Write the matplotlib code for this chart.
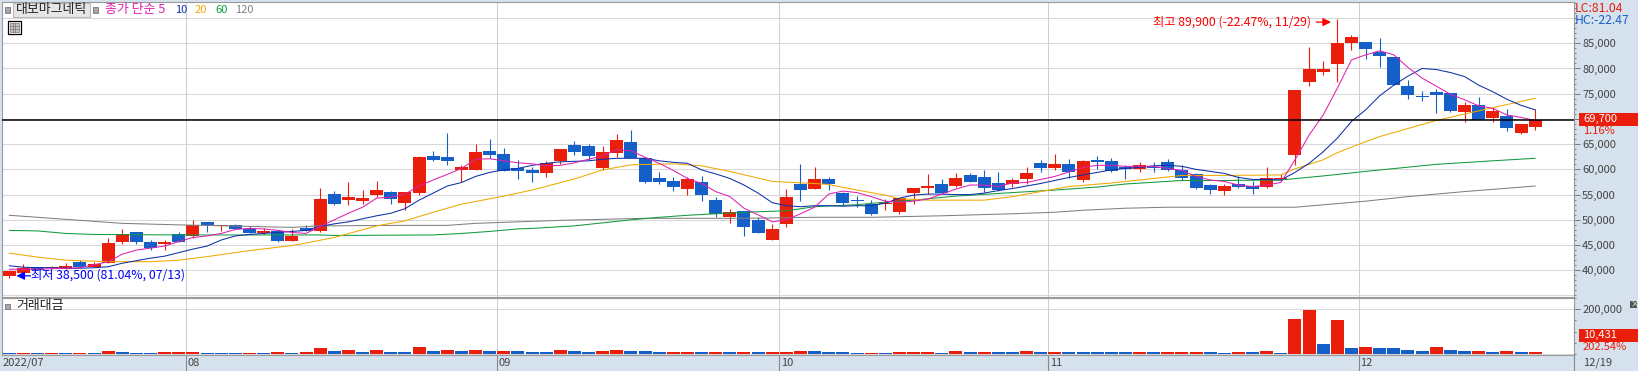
import numpy as np
import matplotlib
matplotlib.use("Agg")
import matplotlib.pyplot as plt
from matplotlib.patches import Rectangle
from matplotlib.ticker import MultipleLocator

plt.rcParams['font.family'] = ['Noto Sans CJK KR', 'DejaVu Sans']

WIDTH = 1638
HEIGHT = 371

RED = "#E91E0B"
BLUE = "#1560C8"
PANEL = "#D6E1EE"
GRID = "#D8D8D8"
EDGE = "#9A9A9A"
TEXT = "#444444"

open_px = [
    38900, 39500, 40600, 40400, 40300, 41700, 40700, 41500, 45600, 47600,
    45700, 45200, 47100, 46700, 49600, 48700, 48900, 48200, 47400, 47700,
    45800, 48400, 47800, 55100, 53900, 53700, 54900, 55500, 53300, 55300,
    62700, 62500, 59900, 59900, 63700, 63100, 60300, 59900, 59300, 61700,
    64800, 64600, 60300, 63300, 65400, 62300, 58300, 57700, 56100, 57500,
    53900, 50600, 51800, 50000, 46000, 49200, 57200, 56100, 58100, 55300,
    53900, 53100, 53100, 51600, 55300, 56300, 57100, 56700, 58900, 58500,
    57300, 57100, 58100, 61300, 60300, 61100, 57900, 61900, 61700, 60500,
    60100, 60400, 61500, 59900, 59100, 56900, 55700, 57100, 56700, 56500,
    58100, 62900, 77300, 79300, 80900, 85100, 85300, 83300, 82300, 76500,
    74600, 75400, 75200, 71400, 72800, 70200, 70600, 67200, 68400]
high_px = [
    39900, 41200, 40600, 40900, 41400, 42000, 41700, 46400, 48200, 47600,
    46000, 46000, 47600, 50000, 49600, 49000, 49100, 48700, 48300, 47700,
    48200, 49000, 56300, 55700, 57500, 55900, 57700, 55700, 55500, 62700,
    63700, 67200, 60900, 65000, 66000, 64300, 61900, 60500, 61700, 64100,
    65600, 65000, 64600, 67000, 67800, 62300, 59500, 58500, 58500, 58700,
    54500, 52200, 51800, 50600, 49200, 56100, 61100, 60500, 58500, 55500,
    54700, 53900, 54100, 54300, 56300, 59100, 58100, 59300, 59300, 59900,
    59500, 58300, 60500, 61900, 63100, 62100, 61900, 62700, 62300, 60900,
    61500, 61500, 62100, 60900, 59300, 57100, 57100, 58600, 57700, 60500,
    59100, 75700, 84300, 81500, 89900, 86700, 85300, 86100, 82300, 77700,
    75500, 75900, 75200, 73400, 74400, 72200, 72000, 69000, 72000]
low_px = [
    38500, 39500, 40100, 40400, 40300, 40600, 40700, 41500, 45200, 45200,
    44000, 44000, 45700, 46400, 47600, 47800, 48200, 47400, 47100, 45600,
    45800, 47700, 47500, 53000, 53000, 53100, 54500, 53100, 52000, 54900,
    61700, 60900, 57400, 59900, 62300, 59700, 58100, 57500, 58500, 61100,
    62900, 61900, 59800, 62500, 62300, 57300, 57100, 55700, 54900, 53700,
    50600, 49400, 46800, 47400, 46000, 48600, 53700, 56100, 55900, 53000,
    52600, 51000, 52000, 51200, 53100, 55100, 55300, 56500, 57500, 55500,
    55700, 56500, 57100, 59500, 59900, 58300, 57500, 60100, 59500, 58100,
    59500, 59500, 59700, 57900, 56100, 55100, 54900, 56300, 55100, 56300,
    57700, 60900, 76500, 78700, 77300, 83700, 81900, 80300, 76700, 74000,
    73600, 71200, 71400, 69400, 69800, 69400, 67600, 67000, 67800]
close_px = [
    39900, 40500, 40100, 40700, 40900, 40600, 41200, 45400, 47100, 45600,
    44500, 45600, 45700, 48900, 48900, 49000, 48200, 47400, 47800, 45800,
    46800, 47700, 54100, 53100, 54500, 54300, 55900, 54100, 55500, 62500,
    61900, 61700, 60500, 63500, 62900, 59700, 59700, 59300, 61300, 64100,
    63500, 62700, 63500, 65800, 62300, 57500, 57500, 56500, 58100, 54900,
    51200, 51600, 48600, 47400, 48200, 54500, 55900, 58100, 57100, 53300,
    53700, 51200, 53300, 54300, 56300, 56700, 55300, 58300, 57500, 56300,
    55900, 57900, 59300, 60300, 61100, 59500, 61700, 61500, 59700, 60100,
    60800, 60200, 59900, 58300, 56300, 55900, 56700, 56500, 56100, 58300,
    58300, 75700, 79900, 79900, 85100, 86300, 83900, 82500, 76700, 74800,
    74400, 74800, 71600, 72800, 69800, 71600, 68200, 69000, 69700]

turnover = [
    3000, 3000, 3000, 3000, 3000, 3000, 3000, 13000, 9000, 3000,
    3000, 9000, 9000, 9000, 3000, 3000, 3000, 3000, 3000, 9000,
    3000, 9000, 27000, 13000, 18000, 9000, 18000, 9000, 9000, 31000,
    13000, 18000, 13000, 18000, 13000, 13000, 13000, 9000, 9000, 18000,
    13000, 9000, 13000, 18000, 13000, 13000, 9000, 9000, 9000, 9000,
    9000, 9000, 9000, 9000, 9000, 9000, 13000, 13000, 9000, 9000,
    4500, 4500, 4500, 9000, 9000, 9000, 4500, 13000, 9000, 9000,
    9000, 9000, 13000, 9000, 9000, 9000, 9000, 9000, 9000, 9000,
    9000, 9000, 9000, 9000, 9000, 9000, 4500, 9000, 9000, 13000,
    4500, 157000, 197000, 45000, 152000, 27000, 31000, 27000, 27000, 18000,
    13000, 31000, 18000, 13000, 13000, 9000, 13000, 9000, 10431]
turnover_up = [
    0, 1, 0, 1, 0, 1, 0, 1, 0, 0,
    0, 1, 1, 1, 0, 0, 0, 1, 0, 1,
    0, 1, 1, 0, 1, 0, 1, 0, 0, 1,
    0, 1, 0, 1, 0, 1, 0, 0, 0, 1,
    0, 0, 1, 1, 0, 0, 0, 1, 1, 0,
    1, 0, 1, 0, 1, 1, 1, 0, 0, 0,
    0, 1, 0, 1, 1, 1, 0, 1, 0, 1,
    0, 0, 1, 0, 1, 0, 0, 0, 0, 0,
    1, 0, 1, 1, 1, 0, 0, 1, 0, 1,
    0, 1, 1, 0, 1, 0, 1, 0, 0, 0,
    0, 1, 0, 0, 1, 0, 1, 0, 1]

ma5 = [
    40200, 40200, 40200, 40300, 40400, 40500, 41100, 41700, 43200, 44000,
    44400, 44800, 45700, 46500, 46800, 47300, 48100, 48300, 48200, 47900,
    47500, 47300, 48700, 50000, 51300, 52500, 54300, 54500, 55100, 56700,
    57900, 59000, 60200, 62000, 62100, 61700, 61300, 61100, 60700, 60800,
    61300, 62000, 62700, 63900, 63700, 62400, 61200, 59800, 58200, 57200,
    55600, 54600, 52300, 51000, 49600, 50000, 51200, 52500, 55100, 55700,
    55400, 54600, 53700, 53500, 53700, 54100, 55100, 56100, 56900, 56900,
    56600, 57300, 57400, 58000, 58600, 59500, 60400, 60800, 60800, 60600,
    60600, 60600, 60200, 59800, 58600, 57900, 57600, 56900, 56600, 56900,
    57400, 61900, 66800, 70800, 76100, 81700, 82700, 83500, 82700, 80200,
    78100, 76500, 74900, 73800, 72600, 72100, 70800, 70300, 69700]
ma10 = [
    40900, 40600, 40500, 40500, 40400, 40400, 40500, 40700, 41400, 41900,
    42400, 42800, 43500, 44200, 44800, 46000, 46800, 47100, 47300, 47500,
    47700, 47900, 48700, 49200, 49600, 50200, 50800, 51300, 52200, 53900,
    55300, 56700, 57400, 58600, 59400, 59900, 60200, 60800, 61200, 61500,
    61600, 61700, 62000, 62200, 62200, 62200, 61700, 61400, 61200, 59900,
    59100, 58200, 56900, 55300, 53400, 52800, 52600, 52800, 52800, 52700,
    52800, 52800, 53300, 54300, 54900, 55100, 55100, 55000, 55000, 55300,
    55800, 56200, 56700, 57200, 57800, 58400, 58900, 59400, 59900, 60200,
    60400, 60700, 60800, 60600, 60000, 59600, 59200, 58400, 58000, 58000,
    57900, 59400, 61200, 63500, 66200, 69500, 71800, 74600, 76700, 78500,
    80000, 79800, 79200, 78400, 76700, 75400, 73900, 72700, 71800]

ma20_at = [0, 2, 4, 7, 10, 12, 14, 17, 20, 21, 23, 26, 28, 30, 32, 35, 37, 40, 42, 44,
           47, 49, 51, 54, 57, 58, 60, 62, 63, 65, 69, 71, 73, 75, 78, 81, 83, 86, 90,
           91, 93, 94, 96, 97, 101, 104, 108]
ma20 = [43400, 42600, 42000, 41700, 41700, 42000, 42700, 43900, 44900, 45400,
        46500, 48800, 49800, 51500, 53100, 54700, 55900, 58100, 59900, 60900,
        61100, 60700, 59600, 57600, 57200, 57000, 55900, 54900, 54200, 53900,
        53900, 54600, 55600, 56600, 57300, 58200, 58800, 58800, 58900, 60100,
        61900, 63300, 65500, 66500, 69700, 71600, 74100]
ma60_at = [0, 2, 4, 6, 12, 22, 23, 30, 32, 34, 36, 37, 40, 42, 44, 46, 48, 50, 53, 55,
           57, 60, 62, 64, 67, 71, 74, 77, 79, 83, 86, 90, 93, 96, 101, 105, 108]
ma60 = [47900, 47800, 47300, 47100, 47000, 47000, 46900, 47000, 47300, 47700,
        48200, 48300, 48800, 49400, 50000, 50500, 50900, 51200, 51600, 51800,
        52600, 53000, 53500, 53900, 54700, 55400, 55900, 56500, 57100, 57800,
        57800, 57900, 58700, 59600, 61000, 61700, 62200]
ma120_at = [0, 4, 8, 12, 17, 20, 22, 28, 31, 33, 35, 37, 39, 42, 45, 52, 57, 61, 66, 71,
            74, 76, 79, 82, 86, 91, 96, 99, 103, 108]
ma120 = [50900, 50100, 49300, 49000, 48700, 48500, 48800, 48900, 48900, 49300,
         49500, 49700, 49900, 50100, 50300, 50300, 50500, 50500, 50800, 51200,
         51500, 51900, 52300, 52500, 52500, 52500, 53700, 54600, 55600, 56700]

month_at = [13, 35, 55, 74, 96]
month_labels = ["08", "09", "10", "11", "12"]
price_ticks = [40000, 45000, 50000, 55000, 60000, 65000, 70000, 75000, 80000, 85000]
grid_levels = [35000, 40000, 45000, 50000, 55000, 60000, 65000, 70000, 75000, 80000, 85000, 90000]
last_close = 69700


def fx(px):
    return px / WIDTH


def fy(py):
    return 1 - py / HEIGHT


def panel_axes(fig, left, top, right, bottom):
    ax = fig.add_axes([fx(left), fy(bottom), fx(right - left), (bottom - top) / HEIGHT])
    for spine in ax.spines.values():
        spine.set_color(EDGE)
        spine.set_linewidth(0.8)
    ax.yaxis.tick_right()
    ax.tick_params(axis='y', which='major', length=4.3, width=0.7, color="#777777",
                   labelsize=8, labelcolor=TEXT, pad=1.5)
    ax.tick_params(axis='y', which='minor', length=1.6, width=0.7, color="#777777")
    ax.set_xlim(-0.554, 110.75)
    return ax


def label(fig, px, py, text, color=TEXT, size=8, **kw):
    fig.text(fx(px), fy(py), text, color=color, fontsize=size, va='center', ha='left', **kw)


def box(fig, left, top, right, bottom, face, edge="none", lw=0.0, zorder=5):
    fig.add_artist(Rectangle((fx(left), fy(bottom)), (right - left) / WIDTH, (bottom - top) / HEIGHT,
                             transform=fig.transFigure, facecolor=face, edgecolor=edge,
                             linewidth=lw, zorder=zorder))


def main():
    fig = plt.figure(figsize=(WIDTH / 100, HEIGHT / 100), dpi=100, facecolor=PANEL)
    ax = panel_axes(fig, 1.5, 1.5, 1574, 296.5)
    vol = panel_axes(fig, 1.5, 297.5, 1574, 355)

    idx = np.arange(len(close_px))
    opens = np.array(open_px)
    closes = np.array(close_px)
    colors = [RED if c >= o else BLUE for o, c in zip(open_px, close_px)]

    ax.set_ylim(34800, 93280)
    ax.hlines(grid_levels, -1, 112, color=GRID, lw=0.75, zorder=1)
    ax.vlines(np.array(month_at) - 0.5, 34000, 94000, color="#CFCFCF", lw=0.75, zorder=1)
    ax.vlines(idx, low_px, high_px, color=colors, lw=0.8, zorder=2)
    ax.bar(idx, np.abs(closes - opens), bottom=np.minimum(opens, closes), width=0.92,
           color=colors, antialiased=False, zorder=3)

    ax.plot(ma120_at, ma120, color="#808080", lw=0.75, zorder=4)
    ax.plot(ma60_at, ma60, color="#119A3E", lw=0.75, zorder=4)
    ax.plot(ma20_at, ma20, color="#F0A800", lw=0.75, zorder=4)
    ax.plot(idx, ma10, color="#0F2FA8", lw=0.75, zorder=4)
    ax.plot(idx, ma5, color="#E020B0", lw=0.75, zorder=4)
    ax.axhline(last_close, color="black", lw=1.1, zorder=5)

    ax.set_yticks(price_ticks)
    ax.set_yticklabels([f"{p:,}" for p in price_ticks])
    ax.yaxis.set_minor_locator(MultipleLocator(1000))
    ax.set_xticks([])

    ax.annotate("최고 89,900 (-22.47%, 11/29)", xy=(94, 89900), xycoords='data',
                xytext=(-184, -3), textcoords='offset pixels', color="#FF0000", fontsize=8.8,
                va='center', ha='left', zorder=6)
    ax.annotate("", xy=(93.55, 89200), xytext=(92.5, 89200),
                arrowprops=dict(arrowstyle="-|>", color="#FF0000", lw=0.9, mutation_scale=12,
                                shrinkA=0, shrinkB=0), zorder=6)
    ax.annotate("최저 38,500 (81.04%, 07/13)", xy=(0, 38500), xycoords='data',
                xytext=(22, 3), textcoords='offset pixels', color="#0000FF", fontsize=8.8,
                va='center', ha='left', zorder=6)
    ax.annotate("", xy=(0.5, 38900), xytext=(1.5, 38900),
                arrowprops=dict(arrowstyle="-|>", color="#0000FF", lw=0.9, mutation_scale=12,
                                shrinkA=0, shrinkB=0), zorder=6)

    vol.set_ylim(-4494, 251700)
    vol.hlines([0, 200000], -1, 112, color=GRID, lw=0.75, zorder=1)
    vol.vlines(np.array(month_at) - 0.5, -5000, 260000, color="#CFCFCF", lw=0.75, zorder=1)
    vol_colors = [RED if up else BLUE for up in turnover_up]
    vol.bar(idx, turnover, width=0.92, color=vol_colors, antialiased=False, zorder=3)
    vol.set_yticks([200000])
    vol.set_yticklabels(["200,000"])
    vol.yaxis.set_minor_locator(MultipleLocator(50000))

    vol.set_xticks(np.array(month_at) - 0.5)
    vol.set_xticklabels([])
    vol.tick_params(axis='x', length=11.5, width=0.8, color="#888888")
    for at, name in zip(month_at, month_labels):
        vol.annotate(name, xy=(at - 0.5, 0), xycoords=('data', 'axes fraction'),
                     xytext=(2, -8), textcoords='offset pixels', color=TEXT, fontsize=8,
                     va='center', ha='left')
    label(fig, 3, 363, "2022/07")
    fig.add_artist(plt.Line2D([fx(1574), fx(1574)], [fy(355), 0], color="#888888", lw=0.8))
    label(fig, 1583, 363, "12/19")

    # legend strip and the little widgets of the trading screen
    box(fig, 5, 7, 10, 12.5, "#A8A8A8", "#777777", 0.6)
    box(fig, 12.5, 3.5, 90, 17, "#E6E6E6", "#BBBBBB", 0.8)
    label(fig, 16, 10, "대보마그네틱", color="#222222", size=9.3, zorder=6)
    box(fig, 93, 7, 98, 12.5, "#A8A8A8", "#777777", 0.6)
    label(fig, 105, 10, "종가 단순 5", color="#E020B0", size=9.3, zorder=6)
    label(fig, 175, 10, "10", color="#0F2FA8", zorder=6)
    label(fig, 195, 10, "20", color="#F0A800", zorder=6)
    label(fig, 215, 10, "60", color="#119A3E", zorder=6)
    label(fig, 235, 10, "120", color="#808080", zorder=6)
    box(fig, 7.5, 21, 20.5, 34, "white", "black", 0.9)
    box(fig, 9.5, 23, 18.5, 32, "#C4C4C4", "#777777", 0.5)
    for px in [12.5, 15.5]:
        fig.add_artist(plt.Line2D([fx(px), fx(px)], [fy(23), fy(32)], color="#777777", lw=0.5, zorder=6))
    for py in [26, 29]:
        fig.add_artist(plt.Line2D([fx(9.5), fx(18.5)], [fy(py), fy(py)], color="#777777", lw=0.5, zorder=6))
    box(fig, 5, 303.5, 10, 309, "#A8A8A8", "#777777", 0.6)
    label(fig, 16, 306, "거래대금", color="#222222", size=9.3, zorder=6)

    label(fig, 1575, 9, "LC:81.04", color=RED, size=8.8, zorder=6)
    label(fig, 1575, 21, "HC:-22.47", color=BLUE, size=8.8, zorder=6)
    box(fig, 1579, 113, 1638, 126, RED)
    label(fig, 1583, 119, "69,700", color="white", zorder=6)
    label(fig, 1583, 131, "1.16%", color=RED, zorder=6)
    box(fig, 1579, 329, 1638, 342, RED)
    label(fig, 1583, 335, "10,431", color="white", zorder=6)
    label(fig, 1583, 347, "202.54%", color=RED, zorder=6)
    box(fig, 1629.5, 301, 1637, 307.5, "#555555")
    label(fig, 1631, 304, "×", color="white", size=6, zorder=6)

    fig.savefig("out.png", dpi=100, facecolor=fig.get_facecolor())


if __name__ == '__main__':
    main()
